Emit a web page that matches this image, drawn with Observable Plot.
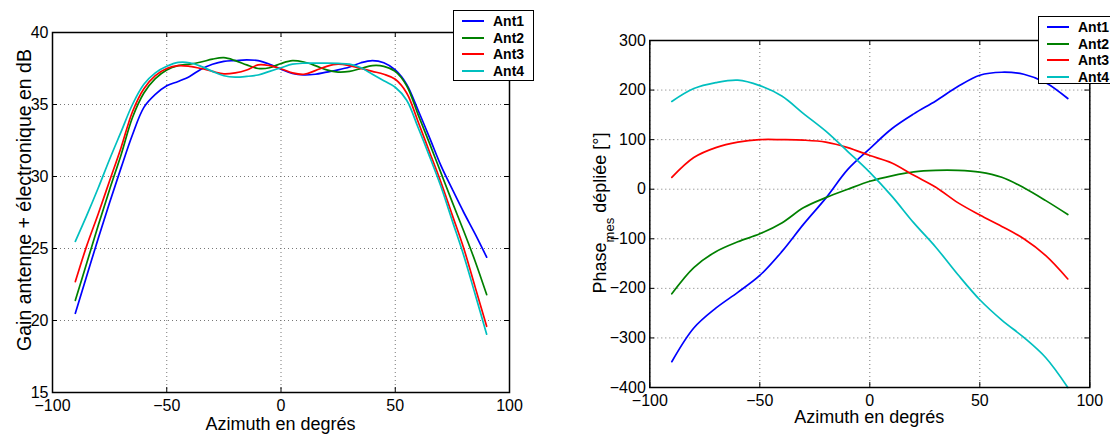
<!DOCTYPE html>
<html>
<head>
<meta charset="utf-8">
<script src="https://cdn.jsdelivr.net/npm/d3@7"></script>
<script src="https://cdn.jsdelivr.net/npm/@observablehq/plot@0.6"></script>
<style>
  html, body { margin: 0; padding: 0; background: #fff; overflow: hidden; }
  #root { position: relative; width: 1110px; height: 434px; overflow: hidden; font-family: "Liberation Sans", Arial, Helvetica, sans-serif; }
  .panel { position: absolute; top: 0; }
  .legend { position: absolute; background: #fff; border: 1px solid #000; box-sizing: border-box; padding: 2px 4px 1px 8px; }
  .legend .row { display: flex; align-items: center; height: 16.5px; font-weight: bold; font-size: 14px; white-space: nowrap; }
  .legend .swatch { flex: 0 0 22px; width: 22px; height: 2px; margin-right: 9px; }
  #labels { position: absolute; left: 0; top: 0; pointer-events: none; }
</style>
</head>
<body>
<div id="root"></div>
<script>
// ---------- data ----------
const seriesNames = ["Ant1", "Ant2", "Ant3", "Ant4"];
const seriesColors = ["#0000ff", "#008000", "#ff0000", "#00bfbf"];

const azGain = [-90,-85,-80,-75,-70,-65,-60,-55,-50,-45,-40,-35,-30,-25,-20,-15,-10,-5,0,5,10,15,20,25,30,35,40,45,50,55,60,65,70,75,80,85,90];
const gainAnt1 = [20.5,23.1,25.7,28.2,30.6,32.9,34.8,35.7,36.3,36.6,36.95,37.45,37.8,38.0,38.05,38.1,38.05,37.8,37.45,37.15,37.05,37.1,37.25,37.4,37.6,37.9,38.05,37.9,37.4,36.4,34.6,32.7,30.75,29.1,27.5,26.0,24.4];
const gainAnt2 = [21.4,24.0,26.6,29.1,31.5,34.1,35.8,36.8,37.4,37.7,37.8,37.95,38.15,38.25,38.05,37.75,37.5,37.55,37.85,38.05,37.95,37.7,37.4,37.25,37.3,37.5,37.7,37.65,37.3,36.3,34.3,32.3,30.25,28.2,26.2,24.1,21.8];
const gainAnt3 = [22.7,25.2,27.4,29.7,32.0,34.5,36.1,37.0,37.5,37.7,37.65,37.5,37.3,37.13,37.2,37.4,37.75,37.7,37.48,37.2,37.1,37.35,37.65,37.8,37.7,37.5,37.3,37.1,36.75,35.8,33.8,31.7,29.6,27.3,25.0,22.3,19.6];
const gainAnt4 = [25.5,27.3,29.2,31.2,33.1,35.0,36.4,37.2,37.65,37.92,37.9,37.65,37.3,37.0,36.9,36.95,37.05,37.3,37.55,37.8,37.87,37.87,37.87,37.85,37.8,37.55,37.1,36.65,36.2,35.3,33.4,31.4,29.3,26.9,24.5,21.8,19.05];

const azPhase = [-90,-80,-70,-60,-50,-40,-30,-20,-10,0,10,20,30,40,50,60,70,80,90];
const phaseAnt1 = [-348,-280,-240,-208,-174,-126,-70,-18,40,82,122,152,178,207,230,236,232,215,183];
const phaseAnt2 = [-211,-158,-126,-106,-90,-68,-37,-17,0,16,27,35,38,38,34.5,24,3,-23,-51];
const phaseAnt3 = [24,64,84,95,100,100,99,95,84,68,53,28,4,-27,-52,-75,-100,-134,-181];
const phaseAnt4 = [177,203,215,220,209,188,152,117,76,34,-14,-68,-117,-172,-223,-264,-299,-340,-400];

const xTicks = [-100,-50,0,50,100];
const gainTicks = [15,20,25,30,35,40];
const phaseTicks = [-400,-300,-200,-100,0,100,200,300];

const xLabel = "Azimuth en degrés";
const gainLabel = "Gain antenne + électronique en dB";

// ---------- helpers ----------
function longTable(az, arrays) {
  const rows = [];
  arrays.forEach((arr, s) => arr.forEach((v, i) => rows.push({az: az[i], v, series: seriesNames[s]})));
  return rows;
}

const FONT = "'Liberation Sans', Arial, Helvetica, sans-serif";

function makePanel({rows, yDomain, yTicks, width, height, ml, mr, mt, mb}) {
  const innerW = width - ml - mr, innerH = height - mt - mb;
  const tk = 5;
  return Plot.plot({
    width, height,
    marginLeft: ml, marginRight: mr, marginTop: mt, marginBottom: mb,
    x: {domain: [-100, 100]},
    y: {domain: yDomain},
    color: {domain: seriesNames, range: seriesColors},
    style: {fontFamily: FONT, fontSize: "16px", color: "#000", background: "transparent", overflow: "visible"},
    marks: [
      Plot.gridX(xTicks, {stroke: "#777", strokeOpacity: 1, strokeDasharray: "1,3", strokeWidth: 1}),
      Plot.gridY(yTicks, {stroke: "#777", strokeOpacity: 1, strokeDasharray: "1,3", strokeWidth: 1}),
      Plot.line(rows, {x: "az", y: "v", z: "series", stroke: "series", curve: "catmull-rom", strokeWidth: 1.7}),
      Plot.tickX(xTicks, {x: d => d, insetTop: innerH - tk, stroke: "#000"}),
      Plot.tickX(xTicks, {x: d => d, insetBottom: innerH - tk, stroke: "#000"}),
      Plot.tickY(yTicks, {y: d => d, insetRight: innerW - tk, stroke: "#000"}),
      Plot.tickY(yTicks, {y: d => d, insetLeft: innerW - tk, stroke: "#000"}),
      Plot.frame({stroke: "#000", strokeWidth: 1.5}),
      Plot.axisX(xTicks, {tickSize: 0, tickPadding: 7, label: null, fontSize: 16}),
      Plot.axisY(yTicks, {tickSize: 0, tickPadding: 4, label: null, fontSize: 16})
    ]
  });
}

function makeLegend(left, top, width, height) {
  const div = document.createElement("div");
  div.className = "legend";
  Object.assign(div.style, {left: left + "px", top: top + "px", width: width + "px", height: height + "px"});
  seriesNames.forEach((n, i) => {
    const row = document.createElement("div");
    row.className = "row";
    const sw = document.createElement("span");
    sw.className = "swatch";
    sw.style.background = seriesColors[i];
    const t = document.createElement("span");
    t.textContent = n;
    row.appendChild(sw); row.appendChild(t);
    div.appendChild(row);
  });
  return div;
}

// ---------- build ----------
const root = document.getElementById("root");

const left = makePanel({
  rows: longTable(azGain, [gainAnt1, gainAnt2, gainAnt3, gainAnt4]),
  yDomain: [15, 40], yTicks: gainTicks,
  width: 540, height: 434, ml: 52, mr: 31, mt: 32, mb: 42
});
left.classList.add("panel");
left.style.left = "0px";
root.appendChild(left);

const right = makePanel({
  rows: longTable(azPhase, [phaseAnt1, phaseAnt2, phaseAnt3, phaseAnt4]),
  yDomain: [-400, 300], yTicks: phaseTicks,
  width: 550, height: 434, ml: 89.3, mr: 20.7, mt: 40, mb: 47
});
right.classList.add("panel");
right.style.left = "560px";
root.appendChild(right);

root.appendChild(makeLegend(453, 10, 81, 71));
root.appendChild(makeLegend(1038, 16, 80, 68));

// axis titles
const ns = "http://www.w3.org/2000/svg";
const lab = document.createElementNS(ns, "svg");
lab.setAttribute("id", "labels");
lab.setAttribute("width", 1110);
lab.setAttribute("height", 434);
lab.style.fontFamily = FONT;
function addText(x, y, rot, str, size) {
  const t = document.createElementNS(ns, "text");
  t.setAttribute("transform", `translate(${x},${y})` + (rot ? ` rotate(${rot})` : ""));
  t.setAttribute("text-anchor", "middle");
  t.setAttribute("font-size", size);
  t.setAttribute("fill", "#000");
  t.textContent = str;
  lab.appendChild(t);
  return t;
}
addText(280.5, 430, 0, xLabel, 18);
addText(869.3, 423, 0, xLabel, 18);
addText(31, 200, -90, gainLabel, 19.5);

// right y label with subscript
const ty = document.createElementNS(ns, "text");
ty.setAttribute("transform", "translate(606,213) rotate(-90)");
ty.setAttribute("text-anchor", "middle");
ty.setAttribute("font-size", 18);
ty.setAttribute("fill", "#000");
const s1 = document.createElementNS(ns, "tspan"); s1.textContent = "Phase";
const s2 = document.createElementNS(ns, "tspan"); s2.textContent = "mes"; s2.setAttribute("dy", 8); s2.setAttribute("font-size", 13);
const s3 = document.createElementNS(ns, "tspan"); s3.textContent = " dépliée [°]"; s3.setAttribute("dy", -8);
ty.appendChild(s1); ty.appendChild(s2); ty.appendChild(s3);
lab.appendChild(ty);
root.appendChild(lab);
</script>
</body>
</html>
